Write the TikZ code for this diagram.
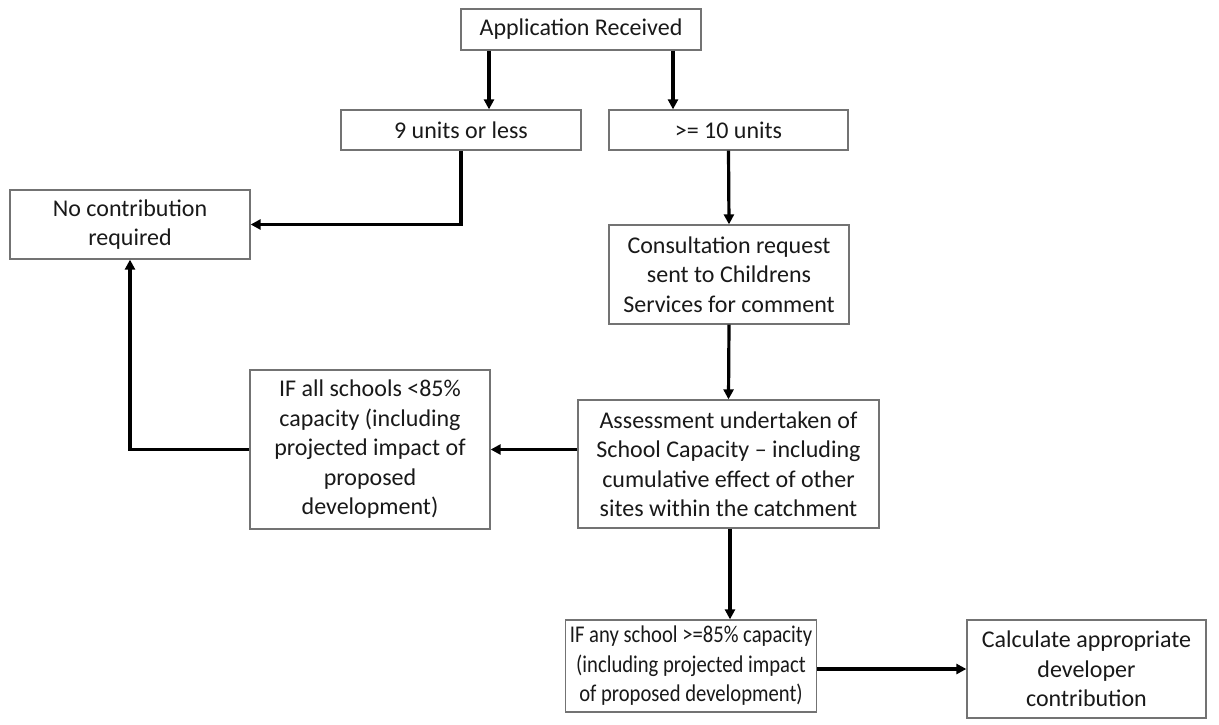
\documentclass[tikz,border=0pt]{standalone}
\usepackage{fontspec}
\setmainfont{Carlito}
\newfontfamily\narrowcar{Carlito}[FakeStretch=0.86]
\usetikzlibrary{arrows.meta}
\begin{document}
\begin{tikzpicture}[x=1pt,y=-1pt,
  box/.style={draw=black!55, line width=1.3pt, fill=white, align=center,
    inner sep=0pt, text=black!90, font=\fontsize{24}{29.5}\selectfont},
  arr/.style={line width=3.2pt, -{Triangle[length=10pt,width=10pt]}}]
\useasboundingbox (0,0) rectangle (1219,724);
\node[box, minimum width=240, minimum height=41] (app) at (581,29.5) {Application Received};
\node[box, minimum width=240, minimum height=40] (nine) at (461,130) {9 units or less};
\node[box, minimum width=239, minimum height=40] (ten) at (728.5,130) {>= 10 units};
\node[box, minimum width=240, minimum height=69] (nocon) at (130,224.5) {No contribution\\required};
\node[box, minimum width=240, minimum height=99] (cons) at (729,274.5) {Consultation request\\sent to Childrens\\Services for comment};
\node[box, minimum width=240, minimum height=159] (ifall) at (370,449.5) {IF all schools <85\%\\capacity (including\\projected impact of\\proposed\\development)};
\node[box, minimum width=251, minimum height=92, font=\narrowcar\fontsize{24}{29.5}\selectfont] (ifany) at (691,666) {IF any school >=85\% capacity\\(including projected impact\\of proposed development)};
\node[box, minimum width=301, minimum height=128] (assess) at (728.5,464) {Assessment undertaken of\\School Capacity – including\\cumulative effect of other\\sites within the catchment};
\node[box, minimum width=239, minimum height=98] (calc) at (1086.5,669) {Calculate appropriate\\developer\\contribution};
\coordinate (c1) at (489,0);
\coordinate (c2) at (673,0);
\coordinate (c3) at (730,0);
\draw[arr] (app.south -| c1) -- (nine.north -| c1);
\draw[arr] (app.south -| c2) -- (ten.north -| c2);
\draw[arr] (nine.south) |- (nocon.east);
\draw[arr] (ten.south) -- (cons.north);
\draw[arr] (cons.south) -- (assess.north);
\draw[arr] (assess.west |- ifall.east) -- (ifall.east);
\draw[arr] (ifall.west) -| (nocon.south);
\draw[arr] (assess.south -| c3) -- (ifany.north -| c3);
\draw[arr] (ifany.east |- calc.west) -- (calc.west);
\end{tikzpicture}
\end{document}
